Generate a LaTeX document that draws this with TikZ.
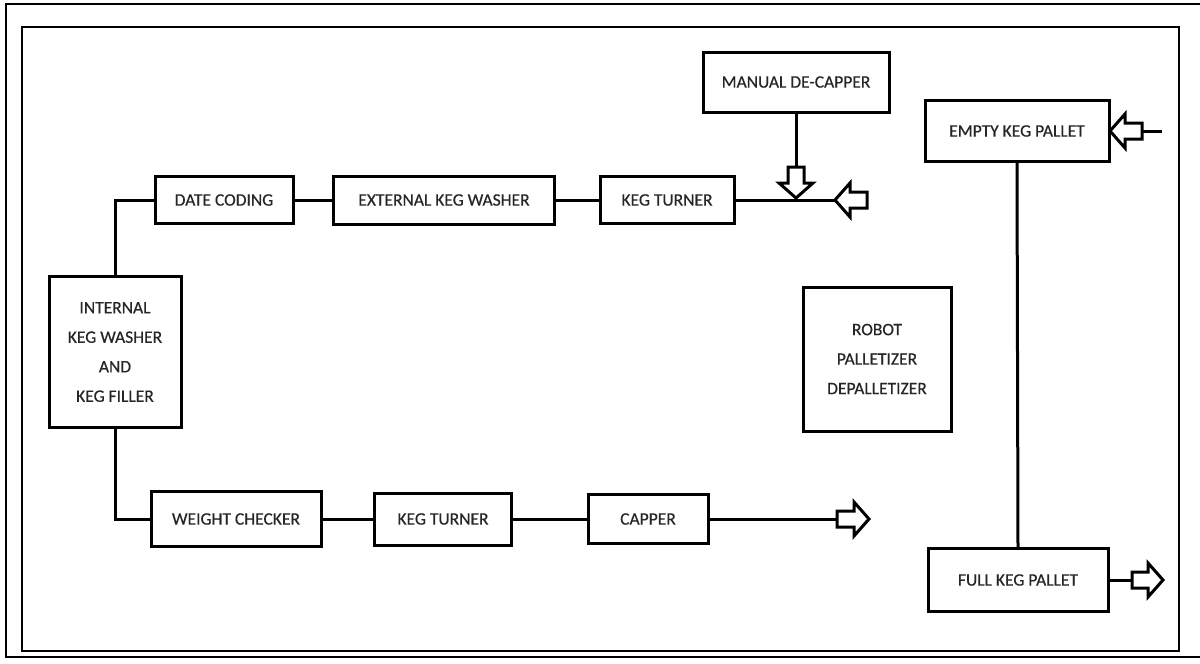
\documentclass[tikz,border=0pt]{standalone}
\usepackage{fontspec}
\setmainfont{Carlito}[FakeBold=0.5]
\begin{document}
\begin{tikzpicture}[x=1pt,y=-1pt,
  box/.style={draw=black, line width=3pt, inner sep=2pt, align=center,
    font=\fontsize{17.5}{29.5}\selectfont, text=black!85},
  conn/.style={draw=black, line width=3pt},
  harrowstyle/.style={draw=black, line width=3pt, fill=white, line join=miter},
  frame/.style={draw=black, line width=2.6pt}]
\useasboundingbox (0,0) rectangle (1200,664);
\newcommand{\harrow}[3]{%
  \begin{scope}[shift={(#1)},rotate=#2]
    \draw[harrowstyle] (0,0) -- (-15,-17) -- (-15,-8) -- (-#3,-8) -- (-#3,8) -- (-15,8) -- (-15,17) -- cycle;
  \end{scope}}
% frames
\draw[frame] (1200,4) -- (6,4) -- (6,657) -- (1200,657);
\draw[frame] (22,27) rectangle (1179,651);
% boxes
\node[box, minimum width=186pt, minimum height=60pt] (decap) at (796,82) {MANUAL DE-CAPPER};
\node[box, minimum width=184pt, minimum height=61pt] (empty) at (1017,131) {EMPTY KEG PALLET};
\node[box, minimum width=138pt, minimum height=47pt] (date) at (224,200) {DATE CODING};
\node[box, minimum width=221pt, minimum height=48pt] (ext) at (444,200) {EXTERNAL KEG WASHER};
\node[box, minimum width=134pt, minimum height=47pt] (kt1) at (667,200) {KEG TURNER};
\node[box, minimum width=132pt, minimum height=151pt] (internal) at (115,352) {INTERNAL\\KEG WASHER\\AND\\KEG FILLER};
\node[box, minimum width=170pt, minimum height=55pt] (weight) at (236,519) {WEIGHT CHECKER};
\node[box, minimum width=137pt, minimum height=52pt] (kt2) at (443,519) {KEG TURNER};
\node[box, minimum width=120pt, minimum height=49pt] (capper) at (648,519) {CAPPER};
\node[box, minimum width=148pt, minimum height=144pt] (robot) at (877,359) {ROBOT\\PALLETIZER\\DEPALLETIZER};
\node[box, minimum width=180pt, minimum height=63pt] (full) at (1018,580) {FULL KEG PALLET};
% coordinates
\coordinate (inTip) at (835,200);
\coordinate (downStart) at (796,167);
\coordinate (downTip) at (796,198);
\coordinate (capStart) at (837,519);
\coordinate (capTip) at (869,519);
\coordinate (emptyTip) at (1110,131);
\coordinate (emptyTail) at (1142,131);
\coordinate (emptyFeed) at (1162,131);
\coordinate (fullStart) at (1132,580);
\coordinate (fullTip) at (1163,580);
% connectors
\draw[conn] (internal.north) |- (date.west);
\draw[conn] (date) -- (ext);
\draw[conn] (ext) -- (kt1);
\draw[conn] (kt1.east) -- (inTip);
\draw[conn] (decap.south) -- (downStart);
\draw[conn] (internal.south) |- (weight.west);
\draw[conn] (weight) -- (kt2);
\draw[conn] (kt2) -- (capper);
\draw[conn] (capper.east) -- (capStart);
\draw[conn] (empty.south) -- (full.north);
\draw[conn] (emptyTail) -- (emptyFeed);
\draw[conn] (full.east) -- (fullStart);
% hollow arrows
\harrow{inTip}{180}{32}
\harrow{downTip}{-90}{31}
\harrow{capTip}{0}{32}
\harrow{emptyTip}{180}{32}
\harrow{fullTip}{0}{31}
\end{tikzpicture}
\end{document}
